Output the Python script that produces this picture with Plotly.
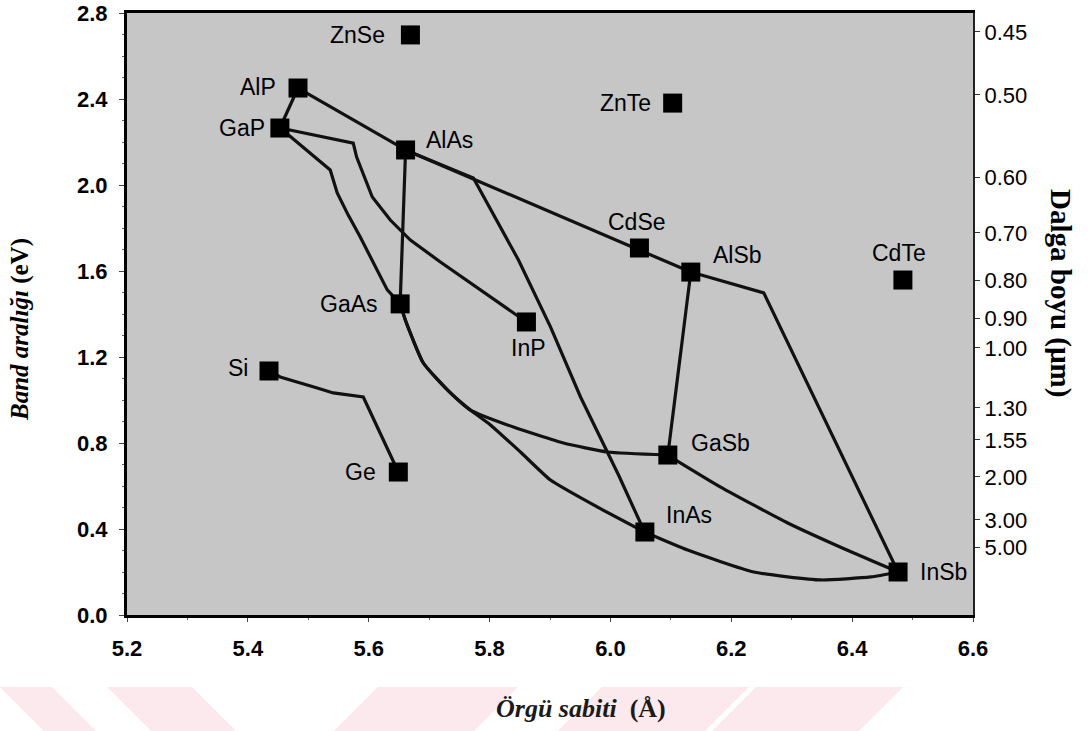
import plotly.graph_objects as go

# Compound semiconductors: lattice constant (Å) and band gap (eV)
compounds = ["ZnSe", "AlP", "GaP", "AlAs", "ZnTe", "CdSe", "AlSb", "CdTe",
             "GaAs", "InP", "Si", "Ge", "GaSb", "InAs", "InSb"]
lattice = [5.669, 5.483, 5.453, 5.661, 6.103, 6.048, 6.133, 6.484,
           5.652, 5.861, 5.435, 5.649, 6.095, 6.057, 6.476]
gap = [2.698, 2.451, 2.265, 2.163, 2.381, 1.707, 1.595, 1.558,
       1.447, 1.363, 1.135, 0.665, 0.744, 0.386, 0.200]

# Alloy curves connecting binary end points
alp_alas_x = [5.483, 5.661]
alp_alas_y = [2.451, 2.163]
alp_gap_x = [5.483, 5.453]
alp_gap_y = [2.451, 2.265]
gainp_x = [5.4535, 5.5744, 5.580, 5.590, 5.6059, 5.6357, 5.6689, 5.7186, 5.7848, 5.8428, 5.861]
gainp_y = [2.265, 2.195, 2.130, 2.060, 1.944, 1.837, 1.744, 1.642, 1.512, 1.395, 1.363]
gaasp_x = [5.4535, 5.5363, 5.5479, 5.5661, 5.586, 5.6076, 5.6307, 5.6523]
gaasp_y = [2.265, 2.070, 1.963, 1.860, 1.758, 1.642, 1.512, 1.447]
algaas_x = [5.661, 5.652]
algaas_y = [2.163, 1.447]
alassb_x = [5.661, 6.133]
alassb_y = [2.163, 1.595]
alinas_x = [5.6606, 5.7732, 5.8478, 5.9008, 5.9505, 6.0134, 6.0565]
alinas_y = [2.163, 2.033, 1.651, 1.340, 1.014, 0.651, 0.386]
alinsb_x = [6.133, 6.2537, 6.476]
alinsb_y = [1.595, 1.498, 0.200]
algasb_x = [6.133, 6.095]
algasb_y = [1.595, 0.744]
gaassb_x = [5.6523, 5.6606, 5.6904, 5.7302, 5.7683, 5.8395, 5.9223, 5.9952, 6.0946]
gaassb_y = [1.447, 1.372, 1.172, 1.047, 0.953, 0.874, 0.800, 0.758, 0.744]
ingaas_x = [5.6523, 5.6606, 5.6904, 5.7302, 5.7683, 5.8014, 5.8511, 5.9008, 5.9787, 6.0565]
ingaas_y = [1.447, 1.372, 1.172, 1.047, 0.953, 0.884, 0.758, 0.628, 0.502, 0.386]
inassb_x = [6.0565, 6.1278, 6.2371, 6.3481, 6.4309, 6.476]
inassb_y = [0.386, 0.302, 0.200, 0.163, 0.177, 0.200]
gainsb_x = [6.0946, 6.1824, 6.2934, 6.4028, 6.476]
gainsb_y = [0.744, 0.595, 0.428, 0.288, 0.200]
sige_x = [5.4353, 5.4535, 5.5148, 5.5413, 5.591, 5.649]
sige_y = [1.135, 1.107, 1.056, 1.033, 1.014, 0.665]

# Wavelength scale on the right (µm), placed at the matching band gap
wl_labels = ["0.45", "0.50", "0.60", "0.70", "0.80", "0.90", "1.00",
             "1.30", "1.55", "2.00", "3.00", "5.00"]
wl_at_gap = [2.712, 2.419, 2.037, 1.777, 1.558, 1.381, 1.242,
             0.963, 0.814, 0.642, 0.442, 0.316]

# Label placement around each marker (anchor, x shift, y shift in px)
label_pos = {
    "ZnSe": ("right", -23, 0), "AlP": ("right", -20, 1), "GaP": ("right", -13, 0),
    "AlAs": ("left", 18, 10), "ZnTe": ("right", -20, 0), "CdSe": ("center", -2, 26),
    "AlSb": ("left", 20, 17), "CdTe": ("center", -4, 27), "GaAs": ("right", -20, 0),
    "InP": ("center", 2, -26), "Si": ("right", -19, 3), "Ge": ("right", -20, 0),
    "GaSb": ("left", 21, 12), "InAs": ("left", 19, 17), "InSb": ("left", 20, 0),
}

W, H = 1092, 731
ML, MR, MT, MB = 127, 119, 13, 116
PW, PH = W - ML - MR, H - MT - MB


def px(xp):
    return (xp - ML) / PW


def py(yp):
    return (H - MB - yp) / PH


fig = go.Figure()

curves = [
    (alp_alas_x, alp_alas_y, "linear"), (alp_gap_x, alp_gap_y, "linear"),
    (gainp_x, gainp_y, "linear"), (gaasp_x, gaasp_y, "linear"),
    (algaas_x, algaas_y, "linear"), (alassb_x, alassb_y, "linear"),
    (alinas_x, alinas_y, "linear"), (alinsb_x, alinsb_y, "linear"),
    (algasb_x, algasb_y, "linear"), (gaassb_x, gaassb_y, "spline"),
    (ingaas_x, ingaas_y, "spline"), (inassb_x, inassb_y, "spline"),
    (gainsb_x, gainsb_y, "spline"), (sige_x, sige_y, "linear"),
]
for cx, cy, shape in curves:
    fig.add_trace(go.Scatter(
        x=cx, y=cy, mode="lines",
        line=dict(color="#111111", width=3.2, shape=shape, smoothing=0.5),
        hoverinfo="skip", showlegend=False))

fig.add_trace(go.Scatter(
    x=lattice, y=gap, mode="markers", text=compounds,
    marker=dict(symbol="square", size=19, color="black",
                line=dict(width=0)),
    showlegend=False))

# invisible trace to activate the wavelength axis
fig.add_trace(go.Scatter(x=[lattice[0]], y=[gap[0]], yaxis="y2", mode="markers",
                         marker=dict(opacity=0), hoverinfo="skip", showlegend=False))

annotations = []
for name, lx, ly in zip(compounds, lattice, gap):
    anchor, dx, dy = label_pos[name]
    annotations.append(dict(
        x=lx, y=ly, xref="x", yref="y", text=name, showarrow=False,
        xanchor=anchor, yanchor="middle", xshift=dx, yshift=dy,
        font=dict(family="Liberation Sans", size=23, color="black")))

annotations.append(dict(
    x=px(20), y=py(330), xref="paper", yref="paper", textangle=-90,
    text="<i>Band aralığı</i> (eV)", showarrow=False,
    xanchor="center", yanchor="middle",
    font=dict(family="Liberation Serif", size=25, color="black", weight="bold")))
annotations.append(dict(
    x=px(581), y=py(708), xref="paper", yref="paper",
    text="<i>Örgü sabiti</i>  (Å)", showarrow=False,
    xanchor="center", yanchor="middle",
    font=dict(family="Liberation Serif", size=26, color="#1a1a1a", weight="bold")))
annotations.append(dict(
    x=px(1061), y=py(293), xref="paper", yref="paper", textangle=90,
    text="Dalga boyu (µm)", showarrow=False,
    xanchor="center", yanchor="middle",
    font=dict(family="Liberation Serif", size=29, color="black", weight="bold")))

# faint pink stripes along the bottom of the page
stripes = [
    ((0, 52), (44, 96)), ((107, 192), (151, 236)),
    ((378, 518), (334, 474)), ((602, 749), (558, 705)), ((756, 903), (712, 859)),
]
shapes = []
for (t0, t1), (b0, b1) in stripes:
    path = (f"M {px(t0)},{py(687)} L {px(t1)},{py(687)} "
            f"L {px(b1)},{py(731)} L {px(b0)},{py(731)} Z")
    shapes.append(dict(type="path", path=path, xref="paper", yref="paper",
                       fillcolor="#fce9ed", line=dict(width=0), layer="below"))

tick_font = dict(family="Liberation Sans", size=22, color="black", weight="bold")

fig.update_layout(
    width=W, height=H,
    margin=dict(l=ML, r=MR, t=MT, b=MB, pad=0),
    paper_bgcolor="white", plot_bgcolor="#c6c6c6",
    annotations=annotations, shapes=shapes,
    xaxis=dict(range=[5.2, 6.6], dtick=0.2, tick0=5.2, tickformat=".1f",
               showgrid=False, zeroline=False, showline=True, mirror=True,
               linecolor="black", linewidth=3, ticks="outside", ticklen=4,
               tickwidth=1, tickcolor="#444", tickfont=tick_font,
               ticklabelstandoff=8, automargin=False,
               minor=dict(ticks="outside", ticklen=2, dtick=0.1, tickcolor="#666")),
    yaxis=dict(range=[0, 2.8], dtick=0.4, tick0=0, tickformat=".1f",
               showgrid=False, zeroline=False, showline=True, mirror=False,
               linecolor="black", linewidth=3, ticks="outside", ticklen=5,
               tickwidth=1, tickcolor="#444", tickfont=tick_font,
               ticklabelstandoff=7, automargin=False,
               minor=dict(ticks="outside", ticklen=2, dtick=0.1, tickcolor="#666")),
    yaxis2=dict(range=[0, 2.8], overlaying="y", side="right",
                tickmode="array", tickvals=wl_at_gap, ticktext=wl_labels,
                showgrid=False, zeroline=False, showline=True,
                linecolor="#222", linewidth=2, ticks="outside", ticklen=5,
                tickwidth=1, tickcolor="#333",
                tickfont=dict(family="Liberation Sans", size=22, color="black"),
                ticklabelstandoff=0, automargin=False),
    hovermode="closest",
)

fig.write_html("out.html")
